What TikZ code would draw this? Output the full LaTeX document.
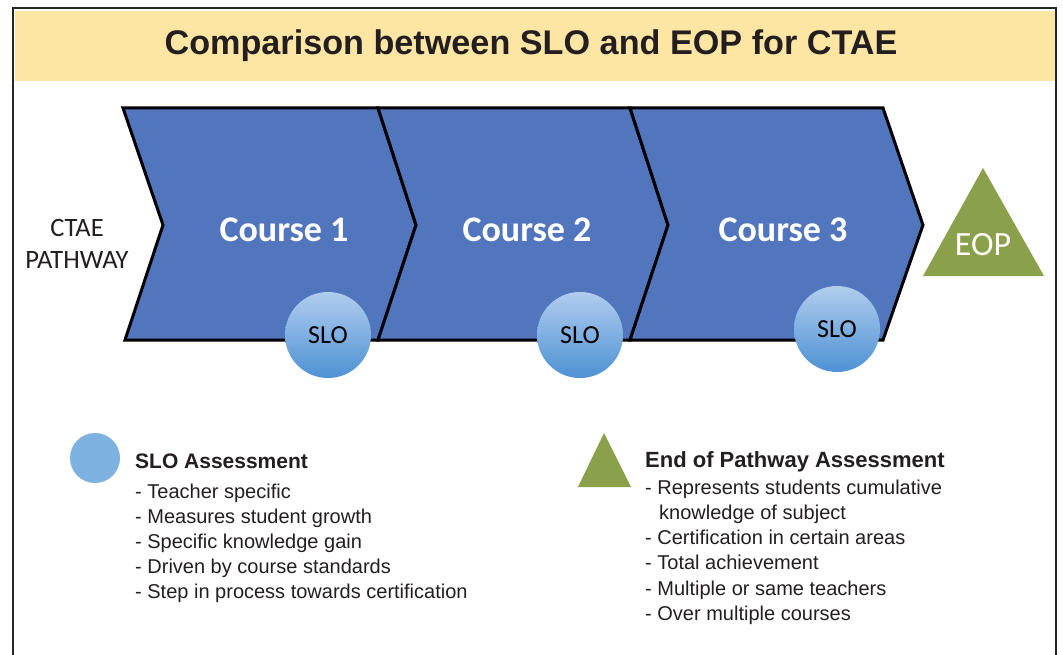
\documentclass[tikz,border=0pt]{standalone}
\usepackage{fontspec}
\setmainfont{Liberation Sans}
\newfontfamily\carl{Carlito}
\definecolor{titlebg}{RGB}{253,230,164}
\definecolor{chevblue}{RGB}{82,118,190}
\definecolor{eopgreen}{RGB}{138,160,74}
\definecolor{legblue}{RGB}{124,177,224}
\definecolor{slotop}{RGB}{176,205,238}
\definecolor{slobot}{RGB}{78,145,212}
\definecolor{txt}{RGB}{35,31,32}
\tikzset{
  chev/.style={fill=chevblue, draw=black, line width=3pt, line join=miter},
  course/.style={font=\carl\bfseries\fontsize{36}{40}\selectfont, text=white},
  slo/.style={circle, minimum size=86pt, inner sep=0pt, top color=slotop, bottom color=slobot, shading angle=0,
    font=\carl\fontsize{26}{28}\selectfont, text=black},
  titletext/.style={font=\bfseries\fontsize{34.2}{38}\selectfont, text=txt},
  leghead/.style={anchor=base west, font=\bfseries\fontsize{21}{25}\selectfont, text=txt, inner sep=0pt},
  legitem/.style={anchor=base west, font=\fontsize{20}{25}\selectfont, text=txt, inner sep=0pt},
}
\begin{document}
\begin{tikzpicture}[x=1pt,y=-1pt]
\useasboundingbox (0,0) rectangle (1063,655);
\fill[white] (0,0) rectangle (1063,655);
\fill[titlebg] (15,11) rectangle (1055,81);
\draw[line width=2pt, black!85] (13,660) -- (13,8) -- (1056,8) -- (1056,660);
\node[titletext] (title) at (531,46) {Comparison between SLO and EOP for CTAE};

% chevrons
\draw[chev] (123,108) -- (378,108) -- (416,225) -- (378,340) -- (125,340) -- (163,225) -- cycle;
\draw[chev] (378,108) -- (630,108) -- (668,225) -- (630,340) -- (378,340) -- (416,225) -- cycle;
\draw[chev] (630,108) -- (883,108) -- (923,225) -- (883,340) -- (630,340) -- (668,225) -- cycle;

\node[course] (c1) at (284,230) {Course 1};
\node[course] (c2) at (527,230) {Course 2};
\node[course] (c3) at (783,230) {Course 3};

\node[align=center, font=\carl\fontsize{26.5}{32}\selectfont, text=txt] (pathway) at (77,244) {CTAE\\PATHWAY};

\node[slo] (s1) at (328,335) {SLO};
\node[slo] (s2) at (580,335) {SLO};
\node[slo] (s3) at (837,329) {SLO};

% EOP triangle
\coordinate (eopA) at (983,168);
\coordinate (eopB) at (1044,276);
\coordinate (eopC) at (923,276);
\fill[eopgreen] (eopA) -- (eopB) -- (eopC) -- cycle;
\node[font=\carl\fontsize{34}{38}\selectfont, text=white] (eop) at (983,245) {EOP};

% legend left
\fill[legblue] (95,458) circle (25);
\node[leghead] (h1) at (135,468) {SLO Assessment};
\node[legitem] (a1) at (135,498) {- Teacher specific};
\node[legitem] (a2) at (135,523.2) {- Measures student growth};
\node[legitem] (a3) at (135,548.4) {- Specific knowledge gain};
\node[legitem] (a4) at (135,573.6) {- Driven by course standards};
\node[legitem] (a5) at (135,598.8) {- Step in process towards certification};

% legend right
\coordinate (lgA) at (604,433);
\coordinate (lgB) at (631,487);
\coordinate (lgC) at (578,487);
\fill[eopgreen] (lgA) -- (lgB) -- (lgC) -- cycle;
\node[leghead, font=\bfseries\fontsize{22}{25}\selectfont] (h2) at (645,467) {End of Pathway Assessment};
\node[legitem] (b1) at (645,494) {- Represents students cumulative};
\node[legitem] (b1b) at (659,519.3) {knowledge of subject};
\node[legitem] (b2) at (645,544.6) {- Certification in certain areas};
\node[legitem] (b3) at (645,569.9) {- Total achievement};
\node[legitem] (b4) at (645,595.2) {- Multiple or same teachers};
\node[legitem] (b5) at (645,620.5) {- Over multiple courses};
\end{tikzpicture}
\end{document}
